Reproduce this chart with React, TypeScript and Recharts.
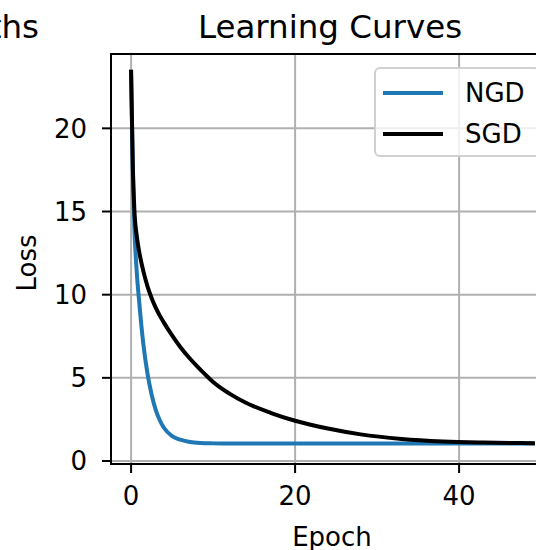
import { CartesianGrid, Legend, Line, LineChart, ReferenceArea, XAxis, YAxis } from 'recharts';

const FONT = '"DejaVu Sans", sans-serif';

// loss per epoch, sampled more densely where the curves drop fast
const EPOCHS = [0, 0.2, 0.4, 0.7, 1, 1.5, 2, 2.5, 3, 3.5, 4, 5, 6, 7, 8, 9, 10, 12, 14, 17, 20, 24, 28, 33, 38, 43, 49];
const NGD_LOSS = [23.4, 17.6, 14.0, 11.3, 9.5, 7.0, 5.25, 4.0, 3.08, 2.45, 2.0, 1.5, 1.28, 1.16, 1.1, 1.07, 1.06, 1.05, 1.05, 1.05, 1.05, 1.05, 1.05, 1.05, 1.05, 1.05, 1.05];
const SGD_LOSS = [23.4, 18.0, 15.1, 13.5, 12.55, 11.4, 10.5, 9.8, 9.22, 8.74, 8.32, 7.55, 6.85, 6.25, 5.72, 5.22, 4.75, 4.05, 3.5, 2.9, 2.42, 1.95, 1.6, 1.33, 1.18, 1.11, 1.07];

const X_TICKS = [0, 20, 40];
const Y_TICKS = [0, 5, 10, 15, 20];
const X_DOMAIN: [number, number] = [-2.45, 51.45];
const Y_DOMAIN: [number, number] = [-0.18, 24.47];

const SERIES = [
  { key: 'ngd', name: 'NGD', color: '#1f77b4' },
  { key: 'sgd', name: 'SGD', color: '#000000' },
];

const data = EPOCHS.map((epoch, i) => ({ epoch, ngd: NGD_LOSS[i], sgd: SGD_LOSS[i] }));

const axisStroke = { stroke: '#000', strokeWidth: 2 };
const tickStyle = { fill: '#000', fontSize: 26, fontFamily: FONT };

function LegendBox() {
  return (
    <div
      style={{
        position: 'relative',
        width: 166,
        height: 90,
        boxSizing: 'border-box',
        border: '2px solid #d0d0d0',
        borderRadius: 6,
        background: 'rgba(255,255,255,0.8)',
        fontFamily: FONT,
        fontSize: 26,
        color: '#000',
      }}
    >
      {SERIES.map((s, i) => (
        <div
          key={s.key}
          style={{ position: 'absolute', left: 7, top: 9 + i * 41, height: 30, display: 'flex', alignItems: 'center' }}
        >
          <span style={{ display: 'inline-block', width: 60, height: 4, background: s.color }} />
          <span style={{ marginLeft: 22, lineHeight: '30px' }}>{s.name}</span>
        </div>
      ))}
    </div>
  );
}

function LossLabel(props: any) {
  const vb = props.viewBox || { x: 0, y: 54, width: 111, height: 410 };
  const cx = vb.x + 27;
  const cy = vb.y + vb.height / 2 + 4;
  return (
    <text
      x={cx}
      y={cy}
      dy="0.36em"
      transform={`rotate(-90 ${cx} ${cy})`}
      textAnchor="middle"
      fill="#000"
      fontSize={26}
      fontFamily={FONT}
    >
      Loss
    </text>
  );
}

export default function App() {
  return (
    <div
      style={{
        position: 'absolute',
        left: 0,
        top: 0,
        width: 536,
        height: 550,
        overflow: 'hidden',
        background: '#fff',
        fontFamily: FONT,
      }}
    >
      <LineChart width={570} height={550} data={data} margin={{ top: 54, right: 17, bottom: 0, left: 0 }}>
        <CartesianGrid stroke="#b0b0b0" strokeWidth={2} />
        <XAxis
          dataKey="epoch"
          type="number"
          domain={X_DOMAIN}
          ticks={X_TICKS}
          height={86}
          tickSize={9}
          tickMargin={14}
          axisLine={axisStroke}
          tickLine={axisStroke}
          tick={tickStyle}
          label={{ value: 'Epoch', position: 'insideBottom', offset: 4, fill: '#000', fontSize: 26, fontFamily: FONT }}
        />
        <YAxis
          type="number"
          domain={Y_DOMAIN}
          ticks={Y_TICKS}
          width={111}
          tickSize={9}
          tickMargin={15}
          axisLine={axisStroke}
          tickLine={axisStroke}
          tick={tickStyle}
          label={{ value: 'Loss', content: LossLabel }}
        />
        <ReferenceArea
          x1={X_DOMAIN[0]}
          x2={X_DOMAIN[1]}
          y1={Y_DOMAIN[0]}
          y2={Y_DOMAIN[1]}
          fill="none"
          stroke="#000"
          strokeWidth={2}
          ifOverflow="visible"
        />
        {SERIES.map((s) => (
          <Line
            key={s.key}
            type="monotone"
            dataKey={s.key}
            name={s.name}
            stroke={s.color}
            strokeWidth={4}
            strokeLinecap="square"
            dot={false}
            activeDot={false}
            isAnimationActive={false}
          />
        ))}
        <Legend
          layout="vertical"
          verticalAlign="middle"
          align="center"
          wrapperStyle={{ top: 67, left: 374, width: 166, height: 90 }}
          content={() => <LegendBox />}
        />
      </LineChart>
      <svg width={536} height={550} style={{ position: 'absolute', left: 0, top: 0, pointerEvents: 'none' }}>
        <text x={39} y={37.5} textAnchor="end" fontSize={32.5} fontFamily={FONT} fill="#000">
          ths
        </text>
        <text x={330} y={37.5} textAnchor="middle" fontSize={32.5} fontFamily={FONT} fill="#000">
          Learning Curves
        </text>
      </svg>
    </div>
  );
}
